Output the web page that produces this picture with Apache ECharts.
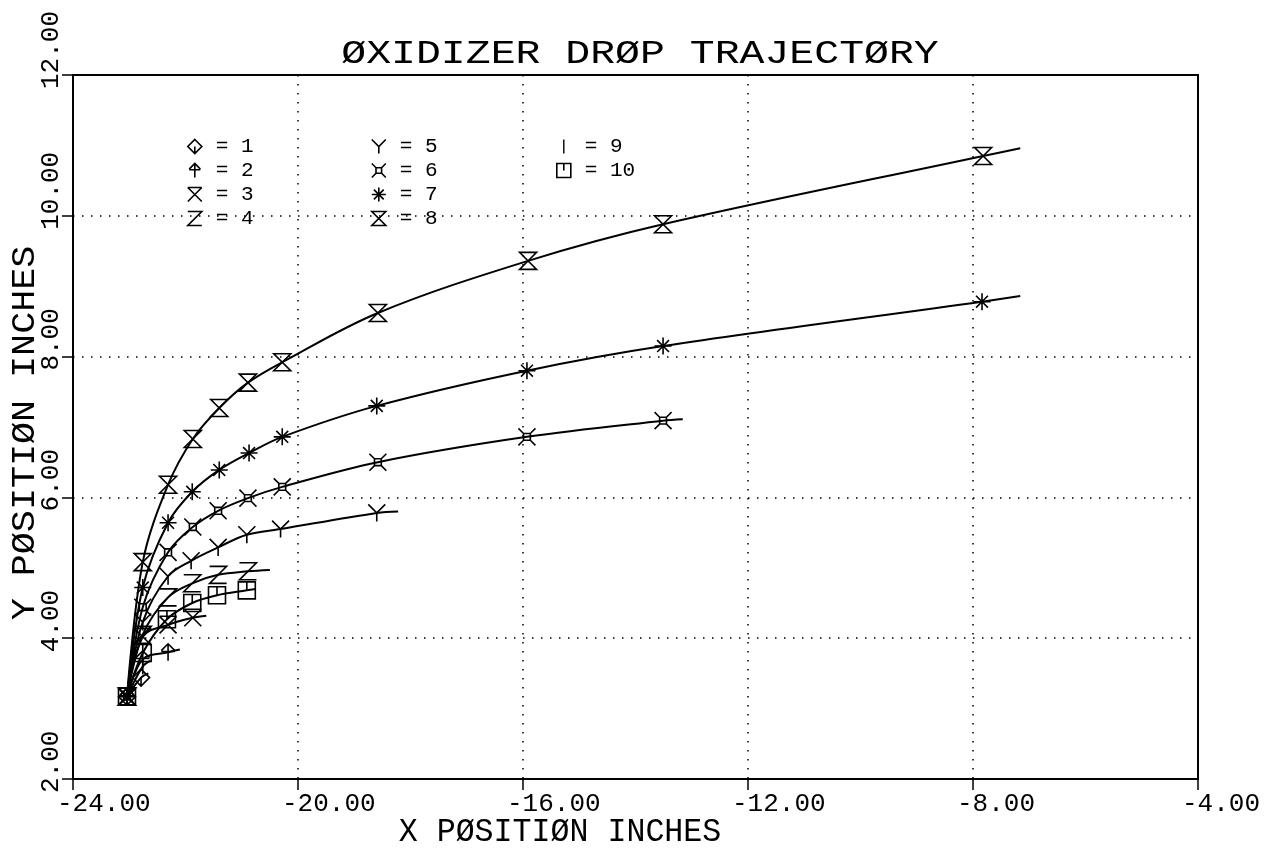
<!DOCTYPE html>
<html><head><meta charset="utf-8">
<script src="https://cdn.jsdelivr.net/npm/echarts@6/dist/echarts.min.js"></script>
<style>html,body{margin:0;padding:0;background:#fff}#c{width:1272px;height:855px}</style>
</head><body><div id="c"></div>
<script>
// ---- data ----
const chartTitle = 'ØXIDIZER DRØP TRAJECTØRY';
const xTitle = 'X PØSITIØN INCHES';
const yTitle = 'Y PØSITIØN INCHES';
const xTicks = [-24, -20, -16, -12, -8, -4];
const yTicks = [2, 4, 6, 8, 10, 12];
const seriesNames = ['1', '2', '3', '4', '5', '6', '7', '8', '9', '10'];

const s1x = [-23.04, -22.79, -22.66];
const s1y = [3.17, 3.44, 3.50];
const s2x = [-23.04, -22.76, -22.31, -22.10];
const s2y = [3.17, 3.70, 3.80, 3.84];
const s3x = [-23.04, -22.76, -22.31, -21.87, -21.63];
const s3y = [3.17, 4.02, 4.19, 4.29, 4.32];
const s4x = [-23.04, -22.76, -22.31, -21.88, -21.42, -20.89, -20.50];
const s4y = [3.17, 4.05, 4.58, 4.78, 4.90, 4.95, 4.97];
const s5x = [-23.04, -22.76, -22.31, -21.90, -21.42, -20.91, -20.31, -18.60, -18.22];
const s5y = [3.17, 4.23, 4.88, 5.10, 5.29, 5.47, 5.55, 5.78, 5.80];
const s6x = [-23.04, -22.76, -22.31, -21.87, -21.42, -20.89, -20.28, -18.58, -15.93, -13.51, -13.16];
const s6y = [3.17, 4.44, 5.22, 5.58, 5.81, 5.99, 6.15, 6.50, 6.86, 7.09, 7.11];
const s7x = [-23.04, -22.76, -22.31, -21.88, -21.40, -20.87, -20.28, -18.60, -15.93, -13.51, -7.84, -7.16];
const s7y = [3.17, 4.72, 5.64, 6.08, 6.39, 6.63, 6.86, 7.30, 7.80, 8.15, 8.78, 8.86];
const s8x = [-23.04, -22.76, -22.31, -21.87, -21.40, -20.89, -20.28, -18.58, -15.91, -13.51, -7.82, -7.16];
const s8y = [3.17, 5.08, 6.18, 6.83, 7.27, 7.63, 7.92, 8.62, 9.36, 9.88, 10.85, 10.96];
const s9x = [-23.04, -22.76, -22.62];
const s9y = [3.17, 3.60, 3.68];
const s10x = [-23.04, -22.76, -22.33, -21.88, -21.44, -20.91, -20.75];
const s10y = [3.17, 3.79, 4.27, 4.50, 4.61, 4.68, 4.70];
// whether the last point of each series is only the end of the line (no marker)
const lastIsLineEnd = [true, true, true, true, true, true, true, true, true, true];

// ---- styles ----
const FONT = '"Liberation Mono", monospace';
const SYM = {
  '1': 'path://M10,0 L20,10 L10,20 L0,10 Z M10,10 L10,20',
  '2': 'path://M10,0 L10,20 M2,8 L10,0 L18,8 M2,9 L18,9',
  '3': 'path://M0,0 L20,0 M0,0 L20,20 M20,0 L0,20',
  '4': 'path://M0,0 L20,0 L0,20 L20,20',
  '5': 'path://M0,0 L10,10 L20,0 M10,10 L10,20',
  '6': 'path://M0,0 L6,6 M20,0 L14,6 M0,20 L6,14 M20,20 L14,14 M6,6 L14,6 L14,14 L6,14 Z',
  '7': 'path://M10,0 L10,20 M0,10 L20,10 M3,3 L17,17 M17,3 L3,17',
  '8': 'path://M0,0 L20,0 L0,20 L20,20 Z',
  '9': 'path://M9,0 L11,0 L11,20 L9,20 Z',
  '10': 'path://M0,0 L20,0 L20,20 L0,20 Z M10,0 L10,10'
};
const allX = [s1x, s2x, s3x, s4x, s5x, s6x, s7x, s8x, s9x, s10x];
const allY = [s1y, s2y, s3y, s4y, s5y, s6y, s7y, s8y, s9y, s10y];

function strokeStyle(name) {
  return name === '9'
    ? { color: '#000', borderWidth: 0 }
    : { color: 'rgba(0,0,0,0)', borderColor: '#000', borderWidth: 1.6 };
}

const series = seriesNames.map((name, k) => {
  const xs = allX[k], ys = allY[k];
  const data = xs.map((x, i) => {
    if (i === xs.length - 1 && lastIsLineEnd[k]) return { value: [x, ys[i]], symbol: 'none' };
    return [x, ys[i]];
  });
  return {
    name: name,
    type: 'line',
    data: data,
    smooth: 0.35,
    symbol: SYM[name],
    symbolSize: name === '9' ? 16 : 17,
    symbolKeepAspect: true,
    showAllSymbol: true,
    lineStyle: { color: '#000', width: 2 },
    itemStyle: strokeStyle(name),
    emphasis: { disabled: true },
    z: 2
  };
});

function legendCol(names, left) {
  return {
    left: left, top: 131, orient: 'vertical',
    itemWidth: 14, itemHeight: 14, itemGap: 3,
    selectedMode: false,
    formatter: '= {name}',
    textStyle: { fontFamily: FONT, fontSize: 21, color: '#000', padding: [0, 0, 0, 9] },
    data: names.map(n => ({ name: n, icon: SYM[n], itemStyle: strokeStyle(n) }))
  };
}

const option = {
  animation: false,
  backgroundColor: '#fff',
  grid: { left: 73, right: 74, top: 75, bottom: 76, show: true, borderColor: '#000', borderWidth: 2, backgroundColor: 'rgba(0,0,0,0)' },
  legend: [
    legendCol(['1', '2', '3', '4'], 182),
    legendCol(['5', '6', '7', '8'], 366),
    legendCol(['9', '10'], 551)
  ],
  xAxis: {
    type: 'value', min: xTicks[0], max: xTicks[xTicks.length - 1], interval: xTicks[1] - xTicks[0],
    axisLine: { show: true, onZero: false, lineStyle: { color: '#000', width: 2 } },
    axisTick: { show: true, length: 11, lineStyle: { color: '#000', width: 1.5 } },
    axisLabel: { formatter: v => v.toFixed(2), fontFamily: FONT, fontSize: 26, color: '#000', align: 'left', verticalAlign: 'top', margin: 12, padding: [0, 0, 0, -16] },
    splitLine: { show: true, lineStyle: { color: '#000', width: 1.5, type: [1.5, 7.5] } }
  },
  yAxis: {
    type: 'value', min: yTicks[0], max: yTicks[yTicks.length - 1], interval: yTicks[1] - yTicks[0],
    axisLine: { show: true, onZero: false, lineStyle: { color: '#000', width: 2 } },
    axisTick: { show: true, length: 11, lineStyle: { color: '#000', width: 1.5 } },
    axisLabel: { rotate: 90, formatter: v => v.toFixed(2), fontFamily: FONT, fontSize: 26, color: '#000', align: 'left', verticalAlign: 'bottom', margin: 9, padding: [0, 0, 0, -14] },
    splitLine: { show: true, lineStyle: { color: '#000', width: 1.5, type: [1.5, 7.5] } }
  },
  graphic: [
    { type: 'text', x: 640, y: 54, scaleX: 1.22, style: { text: chartTitle, font: '34px ' + FONT, fill: '#000', align: 'center', verticalAlign: 'middle' } },
    { type: 'text', x: 560, y: 832, scaleX: 0.93, style: { text: xTitle, font: '34px ' + FONT, fill: '#000', align: 'center', verticalAlign: 'middle' } },
    { type: 'text', x: 25, y: 433, rotation: Math.PI / 2, scaleX: 1.08, style: { text: yTitle, font: '34px ' + FONT, fill: '#000', align: 'center', verticalAlign: 'middle' } }
  ],
  series: series
};

const chart = echarts.init(document.getElementById('c'), null, { renderer: 'canvas' });
chart.setOption(option);
</script>
</body></html>
